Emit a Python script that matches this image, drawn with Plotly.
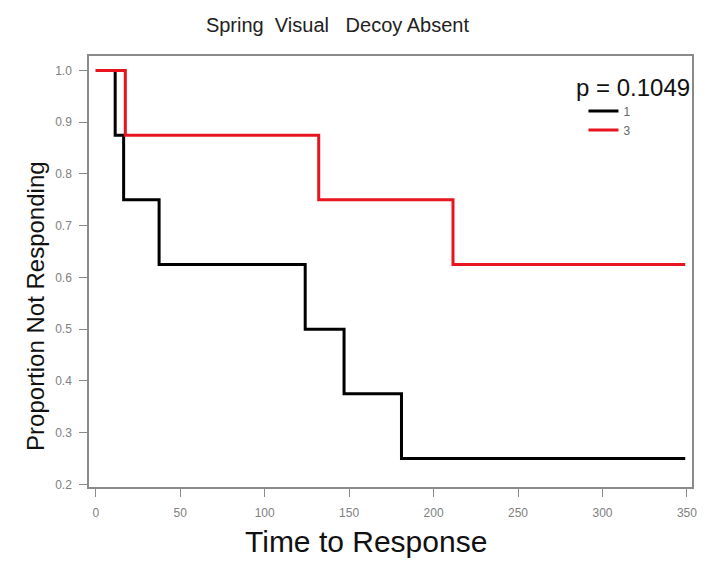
import plotly.graph_objects as go

# Kaplan-Meier step data (time, survival proportion)
times_1 = [0, 11.5, 16.5, 37.5, 124, 147, 181, 349]
surv_1 = [1.0, 0.875, 0.75, 0.625, 0.5, 0.375, 0.25, 0.25]
times_3 = [0, 17.5, 132, 211.5, 349]
surv_3 = [1.0, 0.875, 0.75, 0.625, 0.625]

x_ticks = [0, 50, 100, 150, 200, 250, 300, 350]
y_ticks = [0.2, 0.3, 0.4, 0.5, 0.6, 0.7, 0.8, 0.9, 1.0]
p_value_text = "p = 0.1049"

fig = go.Figure()
fig.add_trace(go.Scatter(x=times_1, y=surv_1, mode="lines", line_shape="hv",
                         line=dict(color="black", width=3), name="1"))
fig.add_trace(go.Scatter(x=times_3, y=surv_3, mode="lines", line_shape="hv",
                         line=dict(color="#e8141e", width=3), name="3"))

axis_common = dict(showgrid=False, zeroline=False, showline=True, mirror=True,
                   linecolor="#8a8a8a", linewidth=1.5, ticks="outside",
                   tickcolor="#8a8a8a")

# axis titles and the log-rank p-value as free annotations
fig.add_annotation(text="Time to Response", xref="paper", yref="paper",
                   x=0.46, y=-0.127, xanchor="center", yanchor="middle", showarrow=False,
                   font=dict(family="Arial", size=30, color="#111"))
fig.add_annotation(text="Proportion Not Responding", xref="paper", yref="paper",
                   x=-0.088, y=0.42, xanchor="center", yanchor="middle", showarrow=False,
                   textangle=-90, font=dict(family="Arial", size=24, color="#111"))
fig.add_annotation(text=p_value_text, xref="paper", yref="paper",
                   x=0.902, y=0.927, xanchor="center", yanchor="middle", showarrow=False,
                   font=dict(family="Arial", size=24, color="#111"))

fig.update_layout(
    width=709, height=563,
    margin=dict(l=89, r=12, t=56, b=76),
    paper_bgcolor="white", plot_bgcolor="white",
    title=dict(text="Spring  Visual   Decoy Absent", x=0.476, xanchor="center",
               y=0.955, yanchor="middle",
               font=dict(family="Arial", size=20, color="#222")),
    xaxis=dict(range=[-4, 353], tickvals=x_ticks, ticklen=8, ticklabelstandoff=6,
               tickfont=dict(family="Arial", size=12, color="#808080"),
               **axis_common),
    yaxis=dict(range=[0.195, 1.028], tickvals=y_ticks, tickformat=".1f",
               ticklen=8, ticklabelstandoff=5,
               tickfont=dict(family="Arial", size=12, color="#808080"),
               **axis_common),
    showlegend=True,
    legend=dict(x=0.82, y=0.906, xanchor="left", yanchor="top",
                bgcolor="rgba(0,0,0,0)",
                font=dict(family="Arial", size=12, color="#666"),
                tracegroupgap=0, itemwidth=30),
)

fig.write_html("out.html")
